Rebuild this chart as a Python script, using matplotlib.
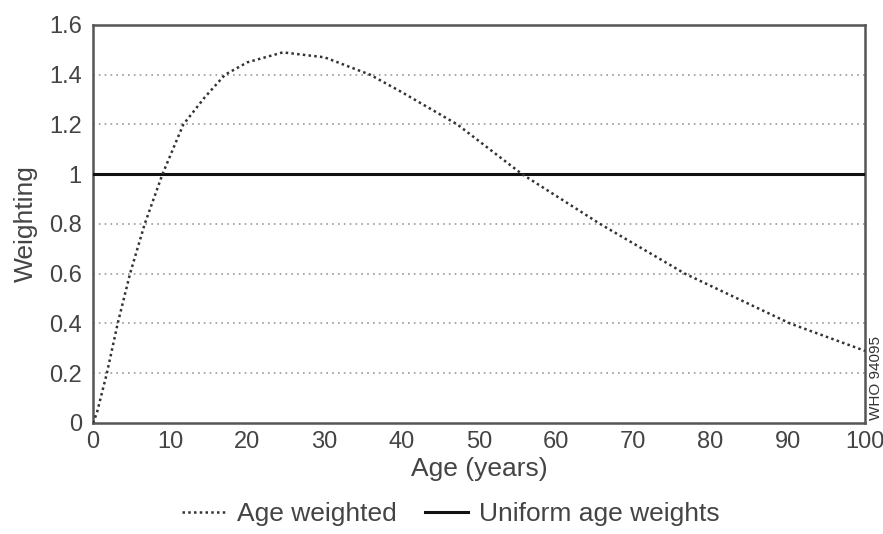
import matplotlib.pyplot as plt
from matplotlib.lines import Line2D

plt.rcParams['font.family'] = ['Liberation Sans', 'DejaVu Sans']

# values
ages = [0, 0.5, 1.8, 3.2, 4.8, 6.7, 9.0, 11.7, 14.5, 17.1, 20, 24.6, 30, 35.9, 40, 47.2, 55.6, 65.7, 76.7, 90.3, 100]
weights = [0, 0.04, 0.2, 0.4, 0.6, 0.8, 1.0, 1.2, 1.31, 1.4, 1.45, 1.49, 1.47, 1.4, 1.33, 1.2, 1.0, 0.8, 0.6, 0.4, 0.29]
uniform_x = [0, 100]
uniform_y = [1, 1]
yticks = [0, 0.2, 0.4, 0.6, 0.8, 1, 1.2, 1.4, 1.6]
ytick_labels = ['0', '0.2', '0.4', '0.6', '0.8', '1', '1.2', '1.4', '1.6']
xticks = [0, 10, 20, 30, 40, 50, 60, 70, 80, 90, 100]

fig = plt.figure(figsize=(8.83, 5.34), dpi=100)
ax = fig.add_axes([0.1053, 0.2079, 0.8743, 0.7453])

for y in yticks[1:-1]:
    ax.axhline(y, color='#999999', lw=1.2, ls=(0, (1, 2.5)), zorder=1)

ax.plot(uniform_x, uniform_y, color='#111111', lw=2.2, zorder=3)
ax.plot(ages, weights, color='#333333', lw=1.8, ls=(0, (1, 1.3)), zorder=4)

ax.set_xlim(0, 100)
ax.set_ylim(0, 1.6)
ax.set_xticks(xticks)
ax.set_yticks(yticks)
ax.set_yticklabels(ytick_labels)
ax.tick_params(axis='y', length=0, labelsize=17, colors='#444444', pad=8)
ax.tick_params(axis='x', length=0, labelsize=17, colors='#444444', pad=6)
for s in ax.spines.values():
    s.set_color('#555555')
    s.set_linewidth(1.8)

ax.set_xlabel('Age (years)', fontsize=19, color='#444444', labelpad=3)
ax.set_ylabel('Weighting', fontsize=19, color='#444444', labelpad=8)

handles = [Line2D([], [], color='#333333', lw=1.8, ls=(0, (1, 1.3))),
           Line2D([], [], color='#111111', lw=2.2)]
fig.legend(handles, ['Age weighted', 'Uniform age weights'], loc='center',
           bbox_to_anchor=(0.511, 0.037), ncol=2, frameon=False, fontsize=19,
           handlelength=1.6, handletextpad=0.45, columnspacing=1.1,
           labelcolor='#444444')

fig.text(0.992, 0.292, 'WHO 94095', rotation=90, fontsize=11, color='#333333',
         ha='center', va='center')

fig.savefig('out.png')
